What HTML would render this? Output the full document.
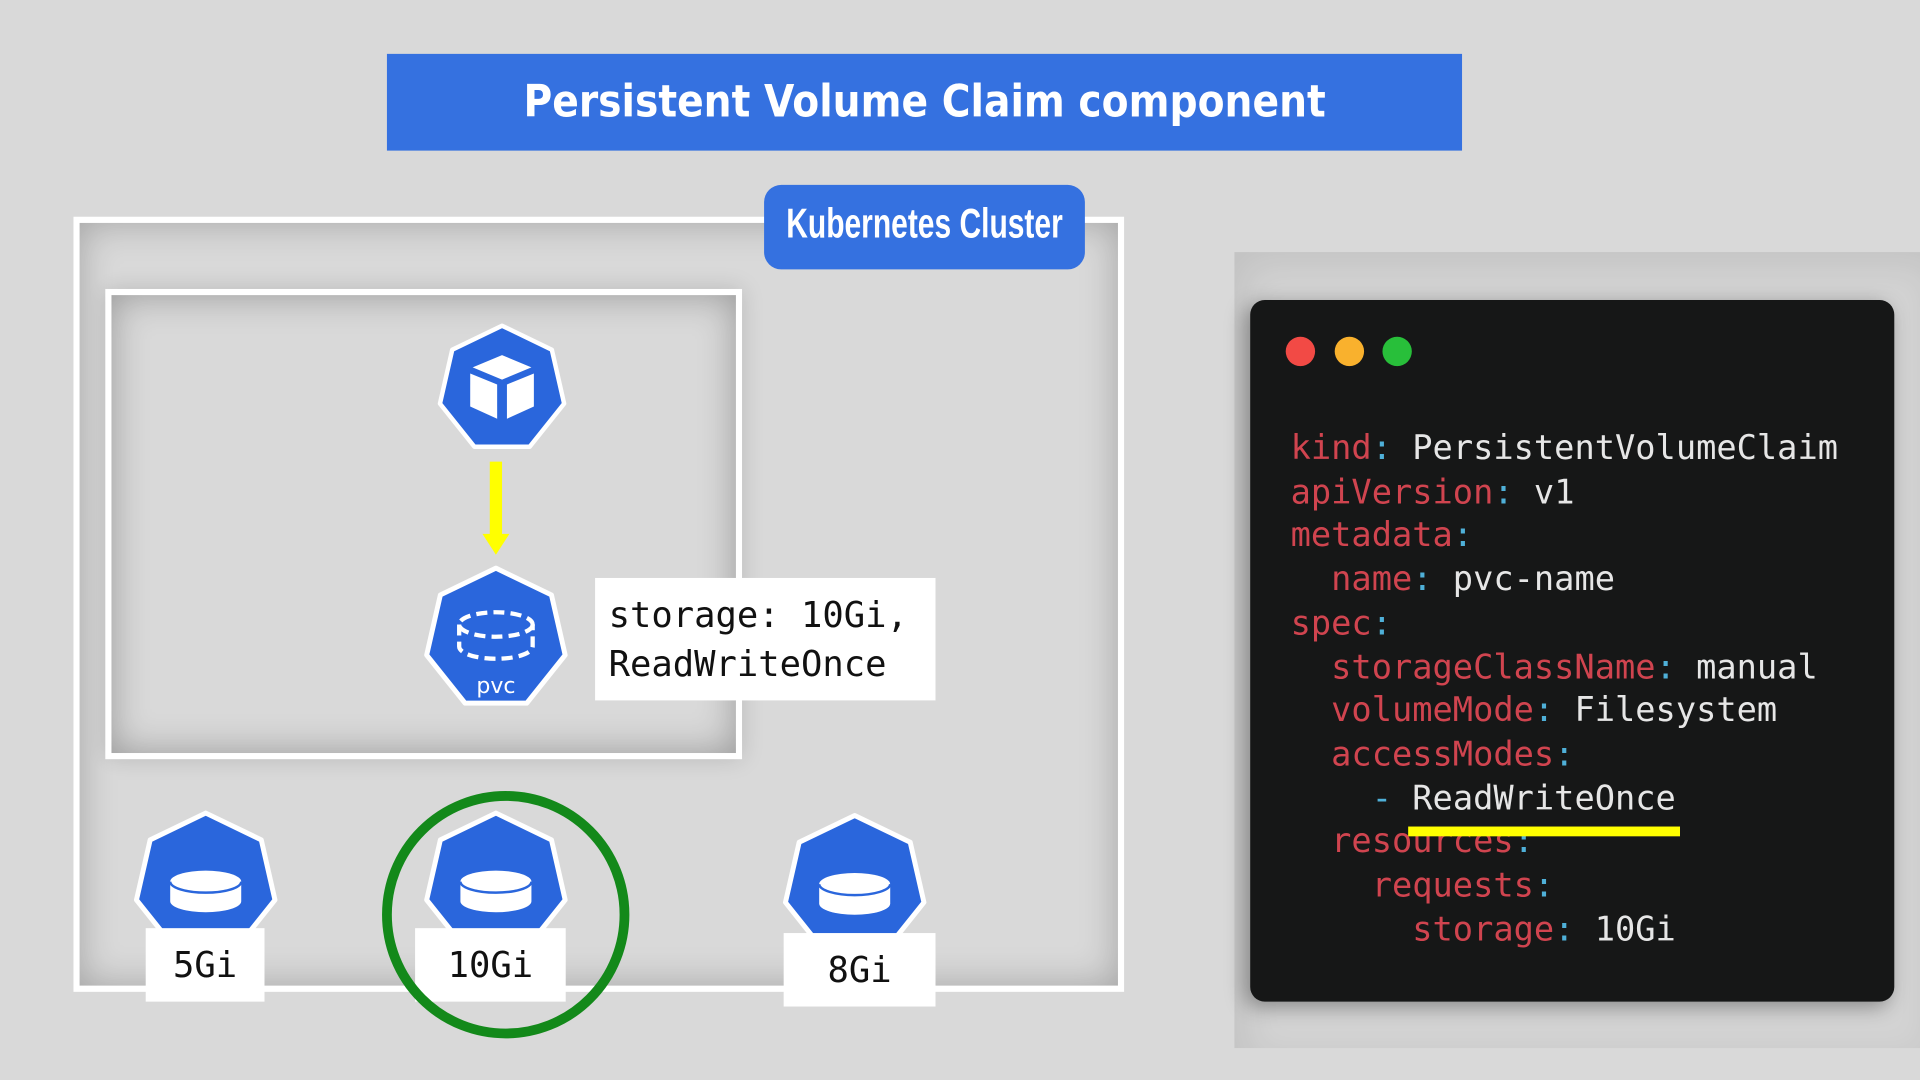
<!DOCTYPE html>
<html><head><meta charset="utf-8"><style>
html,body{margin:0;padding:0;width:1920px;height:1080px;overflow:hidden;background:#d9d9d9}
#w{position:absolute;left:0;top:0;width:1568px;height:882px;transform:scale(1.22449);transform-origin:0 0;font-family:"DejaVu Sans","Liberation Sans",sans-serif}
.abs{position:absolute}
.mono{font-family:"DejaVu Sans Mono","Liberation Mono",monospace}
.r{color:#d0444f}.c{color:#4fb0d8}.t{color:#e6e6e6}
</style></head><body><div id="w">
<div class="abs" style="left:316px;top:44px;width:878px;height:79px;background:#3571e0;color:#fff;font-weight:bold;font-size:36px;line-height:79px;text-align:center;white-space:nowrap"><span style="display:inline-block;transform:scaleX(0.89);font-family:'DejaVu Sans',sans-serif">Persistent Volume Claim component</span></div>

<div class="abs" style="left:60px;top:177px;width:848px;height:623px;border:5px solid #fff;box-shadow:inset 0 0 30px rgba(0,0,0,.25)"></div>
<div class="abs" style="left:86px;top:236px;width:510px;height:374px;border:5px solid #fff;box-shadow:inset 0 0 30px rgba(0,0,0,.3),0 0 18px rgba(0,0,0,.15)"></div>
<div class="abs" style="left:624px;top:151px;width:262px;height:69px;background:#3571e0;border-radius:14px;color:#fff;font-family:'Liberation Sans',sans-serif;font-weight:bold;font-size:34px;line-height:64px;white-space:nowrap"><span style="position:absolute;left:50%;top:0;transform:translateX(-50%) scaleX(0.72)">Kubernetes Cluster</span></div>

<svg class="abs" style="left:0;top:0" width="1000" height="882">
<defs>
<g id="hep"><polygon points="0,-1 0.782,-0.623 0.975,0.223 0.434,0.901 -0.434,0.901 -0.975,0.223 -0.782,-0.623" stroke="#fff" stroke-width="0.07" stroke-linejoin="round" fill="#2a66dc"/></g>
</defs>
<g transform="translate(410,318) scale(52)"><use href="#hep"/></g>
<g fill="#fff">
<polygon points="410,290 386,300 410,310 434,300"/>
<polygon points="384,305 406,314 406,342 384,332"/>
<polygon points="436,305 414,314 414,342 436,332"/>
</g>
<rect x="400" y="377" width="10" height="62" fill="#ffff00"/>
<polygon points="394,436 416,436 405,453" fill="#ffff00"/>
<g transform="translate(405,522) scale(58)"><use href="#hep"/></g>
<g fill="none" stroke="#fff" stroke-width="3.5" stroke-dasharray="9 5">
<ellipse cx="405" cy="510" rx="30" ry="10"/>
<path d="M375 510 V528 A30 10 0 0 0 435 528 V510"/>
</g>
<text x="405" y="566" fill="#fff" font-size="18" text-anchor="middle" font-family="DejaVu Sans,sans-serif">pvc</text>
<g transform="translate(168,722) scale(58)"><use href="#hep"/></g>
<g transform="translate(405,722) scale(58)"><use href="#hep"/></g>
<g transform="translate(698,724) scale(58)"><use href="#hep"/></g>
<g fill="#fff">
<path d="M139 720 A29 9 0 0 1 197 720 V736 A29 9 0 0 1 139 736Z"/>
<path d="M376 720 A29 9 0 0 1 434 720 V736 A29 9 0 0 1 376 736Z"/>
<path d="M669 722 A29 9 0 0 1 727 722 V738 A29 9 0 0 1 669 738Z"/>
</g>
<g fill="none" stroke="#2a66dc" stroke-width="2">
<path d="M139 720 A29 9 0 0 0 197 720"/><path d="M376 720 A29 9 0 0 0 434 720"/><path d="M669 722 A29 9 0 0 0 727 722"/>
</g>
</svg>

<div class="abs mono" style="left:486px;top:472px;width:278px;height:100px;background:#fff;font-size:29px;line-height:40px;padding:10px 0 0 11px;box-sizing:border-box;color:#111">storage: 10Gi,<br>ReadWriteOnce</div>
<div class="abs mono" style="left:119px;top:758px;width:97px;height:60px;background:#fff;font-size:29px;line-height:60px;text-align:center;color:#111">5Gi</div>
<div class="abs mono" style="left:339px;top:758px;width:123px;height:60px;background:#fff;font-size:29px;line-height:60px;text-align:center;color:#111">10Gi</div>
<div class="abs mono" style="left:640px;top:762px;width:124px;height:60px;background:#fff;font-size:29px;line-height:60px;text-align:center;color:#111">8Gi</div>
<svg class="abs" style="left:0;top:0" width="1000" height="882"><circle cx="413" cy="747" r="97" fill="none" stroke="#13891a" stroke-width="8"/></svg>

<div class="abs" style="left:1008px;top:206px;width:560px;height:650px;background:#d3d3d3;box-shadow:inset 10px 10px 30px rgba(0,0,0,.08)"></div>
<div class="abs" style="left:1021px;top:245px;width:526px;height:573px;background:#161717;border-radius:12px;box-shadow:-4px 4px 16px rgba(0,0,0,.35)"></div>
<svg class="abs" style="left:1021px;top:245px" width="200" height="80">
<circle cx="41" cy="42" r="12" fill="#f24a45"/><circle cx="81" cy="42" r="12" fill="#f9b12d"/><circle cx="120" cy="42" r="12" fill="#28bf3a"/></svg>
<div class="abs mono" style="left:1054px;top:349px;font-size:27.5px;line-height:35.7px;white-space:pre"><span class="r">kind</span><span class="c">:</span><span class="t"> PersistentVolumeClaim</span>
<span class="r">apiVersion</span><span class="c">:</span><span class="t"> v1</span>
<span class="r">metadata</span><span class="c">:</span>
<span class="r">  name</span><span class="c">:</span><span class="t"> pvc-name</span>
<span class="r">spec</span><span class="c">:</span>
<span class="r">  storageClassName</span><span class="c">:</span><span class="t"> manual</span>
<span class="r">  volumeMode</span><span class="c">:</span><span class="t"> Filesystem</span>
<span class="r">  accessModes</span><span class="c">:</span>
<span class="c">    -</span><span class="t"> ReadWriteOnce</span>
<span class="r">  resources</span><span class="c">:</span>
<span class="r">    requests</span><span class="c">:</span>
<span class="r">      storage</span><span class="c">:</span><span class="t"> 10Gi</span></div>
<div class="abs" style="left:1150px;top:675px;width:222px;height:8px;background:#ffff00"></div>
</div></body></html>
